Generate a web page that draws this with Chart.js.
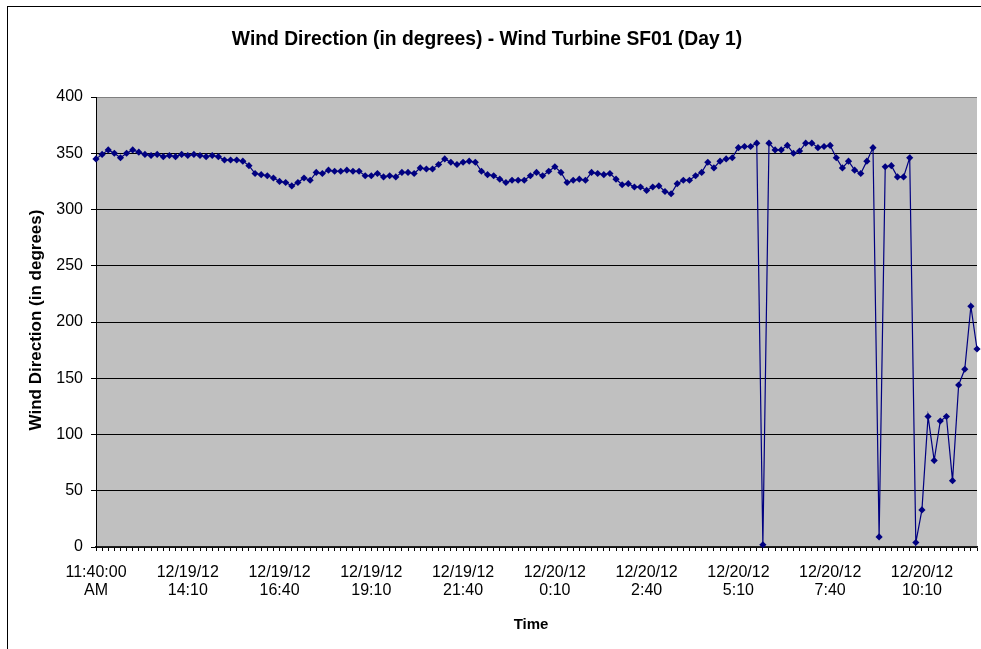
<!DOCTYPE html>
<html>
<head>
<meta charset="utf-8">
<title>Wind Direction - Wind Turbine SF01 (Day 1)</title>
<script src="https://cdn.jsdelivr.net/npm/chart.js@4.4.0/dist/chart.umd.min.js"></script>
<style>
  html, body { margin:0; padding:0; background:#fff; overflow:hidden; }
  canvas { display:block; }
</style>
</head>
<body>
<canvas id="windChart" width="981" height="649"></canvas>
<script>
/* ── Data ─────────────────────────────────────────── */
const startMinutes = 11 * 60 + 40;   // 12/19/12 11:40 AM, one reading every 10 min
const stepMinutes  = 10;

const windDirection = [
  345, 349, 353, 350, 346, 350, 353, 351, 349, 348,
  349, 347, 348, 347, 349, 348, 349, 348, 347, 348,
  347, 344, 344, 344, 343, 339, 332, 331, 330, 328,
  325, 324, 321, 324, 328, 326, 333, 332, 335, 334,
  334, 335, 334, 334, 330, 330, 332, 329, 330, 329,
  333, 333, 332, 337, 336, 336, 340, 345, 342, 340,
  342, 343, 342, 334, 331, 330, 327, 324, 326, 326,
  326, 330, 333, 330, 334, 338, 333, 324, 326, 327,
  326, 333, 332, 331, 332, 327, 322, 323, 320, 320,
  317, 320, 321, 316, 314, 323, 326, 326, 330, 333,
  342, 337, 343, 345, 346, 355, 356, 356, 359,   2,
  359, 353, 353, 357, 350, 352, 359, 359, 355, 356,
  357, 346, 337, 343, 335, 332, 343, 355,   9, 338,
  339, 329, 329, 346,   4,  33, 116,  77, 112, 116,
   59, 144, 158, 214, 176
];

// x-axis labels shown every 15 readings (2.5 h)
const tickEvery  = 15;
const tickLabels = [
  ['11:40:00', 'AM'],
  ['12/19/12', '14:10'],
  ['12/19/12', '16:40'],
  ['12/19/12', '19:10'],
  ['12/19/12', '21:40'],
  ['12/20/12', '0:10'],
  ['12/20/12', '2:40'],
  ['12/20/12', '5:10'],
  ['12/20/12', '7:40'],
  ['12/20/12', '10:10']
];

const yTicks = [0, 50, 100, 150, 200, 250, 300, 350, 400];

const categories = windDirection.map((_, i) => {
  const m = (startMinutes + i * stepMinutes) % (24 * 60);
  return Math.floor(m / 60) + ':' + String(m % 60).padStart(2, '0');
});

/* ── Layout ───────────────────────────────────────── */
const FONT = '"Liberation Sans", Arial, sans-serif';
const PLOT = { left: 96, top: 97, right: 980, bottom: 547 };

/* ── Excel-style frame, plot fill and titles ─────── */
const excelFrame = {
  id: 'excelFrame',
  beforeDraw(chart) {
    const { ctx, chartArea: a } = chart;
    ctx.save();
    ctx.fillStyle = '#fff';
    ctx.fillRect(0, 0, chart.width, chart.height);
    ctx.strokeStyle = '#000';
    ctx.lineWidth = 1;
    ctx.strokeRect(7.5, 6.5, 1100, 800);
    ctx.fillStyle = '#c0c0c0';
    ctx.fillRect(a.left, a.top, a.right - a.left, a.bottom - a.top);
    ctx.restore();
  },
  afterDraw(chart) {
    const ctx = chart.ctx;
    ctx.save();
    ctx.fillStyle = '#000';
    ctx.textAlign = 'center';
    ctx.textBaseline = 'middle';

    ctx.font = 'bold 19.3px ' + FONT;
    ctx.fillText('Wind Direction (in degrees) - Wind Turbine SF01 (Day 1)', 487, 40);

    ctx.font = 'bold 15px ' + FONT;
    ctx.fillText('Time', 531, 625);

    ctx.font = 'bold 17px ' + FONT;
    ctx.translate(36, 320);
    ctx.rotate(-Math.PI / 2);
    ctx.fillText('Wind Direction (in degrees)', 0, 0);
    ctx.restore();
  }
};

/* ── Chart ────────────────────────────────────────── */
new Chart(document.getElementById('windChart'), {
  type: 'line',
  data: {
    labels: categories,
    datasets: [{
      data: windDirection,
      borderColor: '#000080',
      borderWidth: 1.2,
      backgroundColor: '#000080',
      pointStyle: 'rectRot',
      pointRadius: 3.6,
      pointBorderWidth: 0,
      pointBackgroundColor: '#000080',
      tension: 0,
      clip: false
    }]
  },
  options: {
    responsive: false,
    animation: false,
    devicePixelRatio: 1,
    layout: { padding: { top: PLOT.top, right: 981 - PLOT.right, left: 0, bottom: 0 } },
    plugins: {
      legend: { display: false },
      title: { display: false },
      tooltip: { enabled: false }
    },
    scales: {
      x: {
        type: 'category',
        offset: false,
        afterFit: s => {
          s.height = 649 - PLOT.bottom;
          s.paddingLeft = 0;
          s.paddingRight = 0;
        },
        grid: {
          drawOnChartArea: false,
          drawTicks: true,
          tickLength: 4,
          tickColor: '#000',
          lineWidth: 1
        },
        border: { display: true, color: '#222', width: 1.5 },
        ticks: {
          autoSkip: false,
          maxRotation: 0,
          minRotation: 0,
          padding: 12,
          color: '#000',
          font: { family: FONT, size: 16, lineHeight: 1.15 },
          callback: (v, i) => (i % tickEvery === 0 ? tickLabels[i / tickEvery] : '')
        }
      },
      y: {
        min: yTicks[0],
        max: yTicks[yTicks.length - 1],
        afterFit: s => {
          s.width = PLOT.left;
          s.paddingTop = 0;
          s.paddingBottom = 0;
        },
        afterBuildTicks: s => { s.ticks = yTicks.map(v => ({ value: v })); },
        grid: {
          color: ctx => (ctx.tick && ctx.tick.value === 400 ? '#808080' : '#000'),
          tickColor: '#000',
          tickLength: 5,
          lineWidth: 1
        },
        border: { display: true, color: '#000', width: 1 },
        ticks: {
          padding: 8,
          color: '#000',
          font: { family: FONT, size: 16 }
        }
      }
    }
  },
  plugins: [excelFrame]
});
</script>
</body>
</html>
